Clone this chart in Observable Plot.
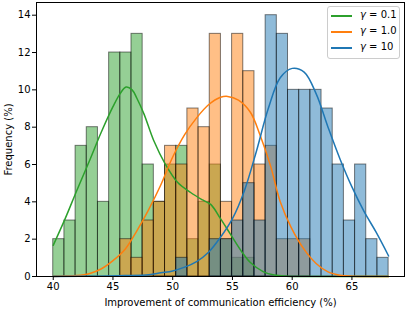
<!DOCTYPE html>
<html><head><meta charset="utf-8">
<script src="https://cdn.jsdelivr.net/npm/d3@7"></script>
<script src="https://cdn.jsdelivr.net/npm/@observablehq/plot@0.6"></script>
<style>
body{margin:0;background:#fff;}
#wrap{position:relative;width:407px;height:310px;font-family:"DejaVu Sans",sans-serif;}
.legend{position:absolute;left:327px;top:6px;width:73px;height:53px;border:1px solid #cccccc;border-radius:3px;background:rgba(255,255,255,0.8);box-sizing:border-box;}
.sw{position:absolute;left:3px;width:21px;height:2px;}
.lt{position:absolute;left:32px;font-size:10px;line-height:12px;white-space:nowrap;color:#000;}
.lt i{font-style:italic;}
</style></head>
<body><div id="wrap"></div>
<script>
// Bin edges (common bins for all series)
const binEdges = [40.000, 40.936, 41.871, 42.807, 43.743, 44.679, 45.614, 46.550, 47.486, 48.421,
  49.357, 50.293, 51.228, 52.164, 53.100, 54.036, 54.971, 55.907, 56.843, 57.778,
  58.714, 59.650, 60.585, 61.521, 62.457, 63.393, 64.328, 65.264, 66.200, 67.135, 68.071];

const seriesNames = ["γ = 0.1", "γ = 1.0", "γ = 10"];
const seriesColors = ["#2ca02c", "#ff7f0e", "#1f77b4"];

// Histogram heights (%) per bin
const green  = [2,3,7,8,4,12,12,13,6,4,6,7,2,4,6,2,1,1,0,0,0,0,0,0,0,0,0,0,0,0];
const orange = [0,0,0,0,0,0,2,1,3,4,7,6,9,8,13,4,13,11,6,7,2,2,2,0,0,0,0,0,0,0];
const blue   = [0,0,0,0,0,0,0,0,0,0,0,1,0,0,2,2,3,5,3,14,13,10,10,10,9,6,3,6,2,1];

// KDE curves
const greenKdeX = [40, 41, 42, 43, 44, 45, 45.6, 46.1, 46.6, 47, 47.6, 48.4, 49.4, 50.4, 51.5, 52.5, 53.2, 54, 54.8, 55.7, 56.5, 57.6, 58.5, 59.5, 61, 68.07];
const greenKdeY = [1.67, 3.1, 4.65, 6.15, 7.7, 9.1, 9.8, 10.15, 10.0, 9.55, 8.7, 7.3, 6.0, 5.05, 4.5, 4.1, 3.85, 3.1, 2.3, 1.4, 0.75, 0.25, 0.08, 0.02, 0, 0];
const orangeKdeX = [40, 42, 43, 44, 45, 46, 47, 48, 49, 50, 51, 52, 53, 54, 54.6, 55.5, 56.5, 57.3, 58.2, 59, 59.9, 61, 62, 63, 64, 65, 66, 68.07];
const orangeKdeY = [0, 0.05, 0.15, 0.4, 0.85, 1.45, 2.45, 3.6, 4.9, 6.4, 7.6, 8.5, 9.2, 9.6, 9.65, 9.45, 8.8, 7.6, 5.9, 4.0, 2.65, 1.45, 0.7, 0.25, 0.07, 0.02, 0, 0];
const blueKdeX = [40, 44, 46, 48, 49, 50, 51, 52, 53, 54, 55, 56, 57, 58, 59, 60, 61, 62, 63, 64, 65, 66, 67, 68.07];
const blueKdeY = [0, 0.02, 0.05, 0.1, 0.2, 0.3, 0.5, 0.8, 1.3, 2.1, 3.1, 4.6, 6.7, 9.0, 10.65, 11.15, 10.95, 9.8, 8.0, 6.3, 4.8, 3.5, 2.4, 1.1];

const xTicks = [40, 45, 50, 55, 60, 65];
const yTicks = [0, 2, 4, 6, 8, 10, 12, 14];

function barsOf(vals) {
  const out = [];
  vals.forEach((v, i) => { if (v > 0) out.push({x1: binEdges[i], x2: binEdges[i + 1], y0: 0, v}); });
  return out;
}
function curveOf(xs, ys) { return xs.map((x, i) => ({x, y: ys[i]})); }

const allVals = [green, orange, blue];
const allKde = [[greenKdeX, greenKdeY], [orangeKdeX, orangeKdeY], [blueKdeX, blueKdeY]];

const marks = [];
allVals.forEach((vals, k) => {
  marks.push(Plot.rect(barsOf(vals), {x1: "x1", x2: "x2", y1: "y0", y2: "v", inset: 0,
    fill: seriesColors[k], fillOpacity: 0.5, stroke: "black", strokeOpacity: 0.5, strokeWidth: 1}));
});
allKde.forEach(([xs, ys], k) => {
  marks.push(Plot.line(curveOf(xs, ys), {x: "x", y: "y", stroke: seriesColors[k], strokeWidth: 1.5, curve: "catmull-rom"}));
});
marks.push(Plot.frame({stroke: "black", strokeWidth: 1}));
marks.push(Plot.axisX({ticks: xTicks, tickSize: 4, tickPadding: 2, tickFormat: d => String(d),
  label: "Improvement of communication efficiency (%)", labelAnchor: "center", labelArrow: "none", labelOffset: 29}));
marks.push(Plot.axisY({ticks: yTicks, tickSize: 4, tickPadding: 2, tickFormat: d => String(d),
  label: "Frequency (%)", labelAnchor: "center", labelArrow: "none", labelOffset: 32}));

const chart = Plot.plot({
  width: 407, height: 310,
  marginLeft: 36, marginRight: 3, marginTop: 2, marginBottom: 34,
  style: {fontFamily: "DejaVu Sans", fontSize: "10px", color: "black", background: "white"},
  x: {domain: [38.6, 69.4]},
  y: {domain: [0, 14.68]},
  marks
});
const wrap = document.getElementById("wrap");
wrap.appendChild(chart);

const leg = document.createElement("div");
leg.className = "legend";
const ys = [8.7, 25, 41.3];
seriesNames.forEach((name, k) => {
  const sw = document.createElement("div");
  sw.className = "sw";
  sw.style.top = (ys[k] - 1) + "px";
  sw.style.background = seriesColors[k];
  leg.appendChild(sw);
  const t = document.createElement("div");
  t.className = "lt";
  t.style.top = (ys[k] - 7) + "px";
  t.innerHTML = "<i>" + name.slice(0, 1) + "</i>" + name.slice(1);
  leg.appendChild(t);
});
wrap.appendChild(leg);
</script></body></html>
